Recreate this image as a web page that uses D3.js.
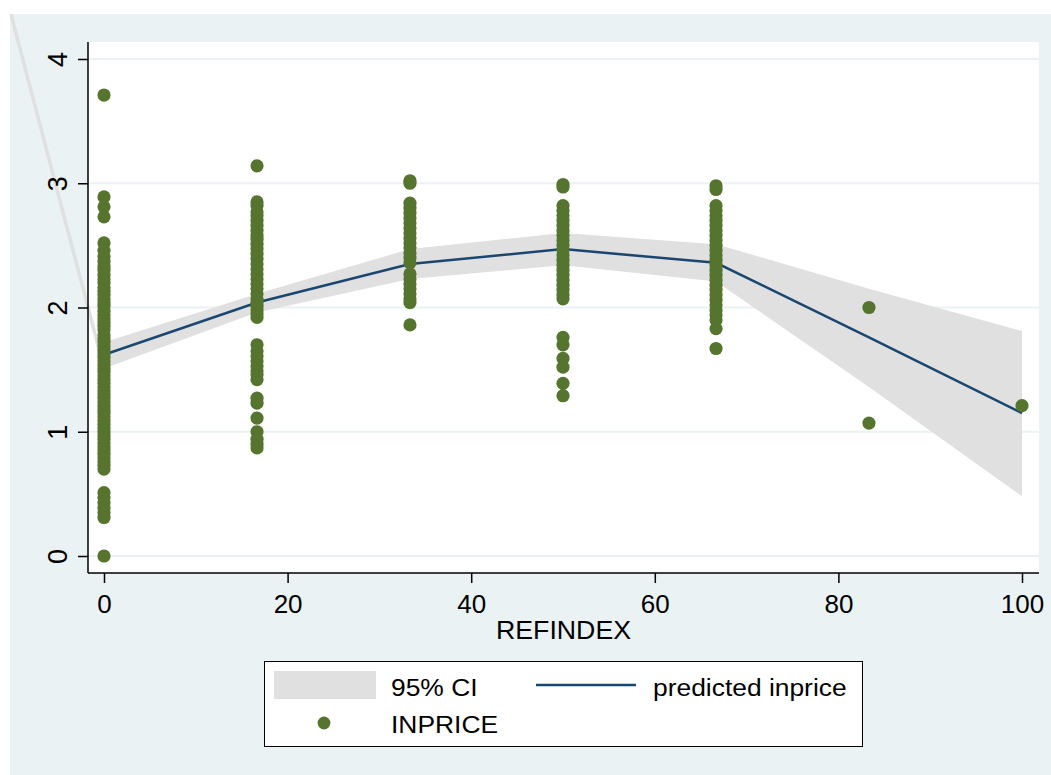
<!DOCTYPE html>
<html>
<head>
<meta charset="utf-8">
<script src="https://cdn.jsdelivr.net/npm/d3@7"></script>
<style>
  body { margin: 0; background: #fff; }
  text { font-family: "Liberation Sans", Arial, sans-serif; fill: #000; }
</style>
</head>
<body>
<svg id="chart" width="1051" height="775"></svg>
<script>
// REFINDEX groups and INPRICE values
const refindex = [0, 16.67, 33.33, 50, 66.67, 83.33, 100];
const inprice0 = [3.71, 2.89, 2.81, 2.73, 2.52, 2.46, 2.41, 2.37, 2.33, 2.30, 2.26, 2.23, 2.20, 2.16, 2.13, 2.10, 2.07,
  2.04, 2.01, 1.97, 1.94, 1.91, 1.88, 1.85, 1.82, 1.78, 1.75, 1.72, 1.69, 1.66, 1.63, 1.60, 1.57, 1.54, 1.51, 1.48,
  1.45, 1.42, 1.39, 1.36, 1.33, 1.30, 1.27, 1.24, 1.21, 1.18, 1.15, 1.12, 1.09, 1.06, 1.03, 1.00, 0.97, 0.94, 0.91,
  0.88, 0.85, 0.82, 0.79, 0.76, 0.73, 0.70, 0.51, 0.47, 0.43, 0.39, 0.35, 0.31, 0.00];
const inprice17 = [3.14, 2.85, 2.82, 2.77, 2.74, 2.70, 2.66, 2.62, 2.58, 2.55, 2.51, 2.47, 2.43, 2.39, 2.35, 2.31,
  2.27, 2.23, 2.19, 2.15, 2.11, 2.07, 2.04, 2.01, 1.98, 1.95, 1.92, 1.70, 1.65, 1.61, 1.57, 1.53, 1.49, 1.46, 1.42,
  1.27, 1.23, 1.11, 1.00, 0.94, 0.90, 0.87];
const inprice33 = [3.02, 3.00, 2.84, 2.80, 2.76, 2.72, 2.68, 2.64, 2.60, 2.56, 2.52, 2.48, 2.44, 2.40, 2.36,
  2.27, 2.23, 2.19, 2.15, 2.11, 2.07, 2.04, 1.86];
const inprice50 = [2.99, 2.97, 2.82, 2.78, 2.74, 2.70, 2.66, 2.62, 2.58, 2.54, 2.50, 2.46, 2.42, 2.38, 2.34, 2.30, 2.26,
  2.22, 2.18, 2.14, 2.10, 2.07, 1.76, 1.70, 1.59, 1.52, 1.39, 1.29];
const inprice67 = [2.98, 2.95, 2.82, 2.78, 2.74, 2.70, 2.66, 2.62, 2.58, 2.54, 2.50, 2.46, 2.42, 2.38, 2.34, 2.30,
  2.26, 2.22, 2.18, 2.14, 2.10, 2.06, 2.02, 1.98, 1.94, 1.90, 1.83, 1.67];
const inprice83 = [2.00, 1.07];
const inprice100 = [1.21];

// fitted values and 95% CI at each REFINDEX
const predicted = [1.62, 2.04, 2.35, 2.47, 2.36, 1.76, 1.15];
const ciLow = [1.51, 1.96, 2.23, 2.34, 2.21, 1.36, 0.48];
const ciHigh = [1.72, 2.11, 2.47, 2.60, 2.51, 2.15, 1.81];
// stray CI edge that runs off the top-left of the graph
const ciStray = [{x: 0, y: 1.51}, {x: -11.7, y: 4.8}];

const xTicks = [0, 20, 40, 60, 80, 100];
const yTicks = [0, 1, 2, 3, 4];

const colDots = "#55752f", colLine = "#1a476f", colCI = "#e0e0e0", colBg = "#eaf2f3";

const svg = d3.select("#chart");
const plot = {left: 88, right: 1039, top: 42, bottom: 573};

const x = d3.scaleLinear().domain([0, 100]).range([104, 1022]);
const y = d3.scaleLinear().domain([0, 4]).range([556, 59]);

// outer and inner regions
svg.append("rect").attr("x", 10).attr("y", 14).attr("width", 1041).attr("height", 761).attr("fill", colBg);
svg.append("rect").attr("x", plot.left).attr("y", plot.top)
  .attr("width", plot.right - plot.left).attr("height", plot.bottom - plot.top).attr("fill", "#fff");

svg.append("clipPath").attr("id", "outer")
  .append("rect").attr("x", 10).attr("y", 14).attr("width", 1041).attr("height", 761);

// gridlines
svg.append("g").selectAll("line").data(yTicks).join("line")
  .attr("x1", plot.left).attr("x2", plot.right)
  .attr("y1", d => y(d)).attr("y2", d => y(d))
  .attr("stroke", colBg).attr("stroke-width", 2);

const rows = refindex.map((r, i) => ({x: r, fit: predicted[i], lo: ciLow[i], hi: ciHigh[i]}));

// CI band
svg.append("path").datum(rows)
  .attr("d", d3.area().x(d => x(d.x)).y0(d => y(d.lo)).y1(d => y(d.hi)))
  .attr("fill", colCI);
svg.append("path").datum(ciStray)
  .attr("clip-path", "url(#outer)")
  .attr("d", d3.line().x(d => x(d.x)).y(d => y(d.y)))
  .attr("stroke", colCI).attr("stroke-width", 3.5).attr("fill", "none");

// fitted line
svg.append("path").datum(rows)
  .attr("d", d3.line().x(d => x(d.x)).y(d => y(d.fit)))
  .attr("stroke", colLine).attr("stroke-width", 2.5).attr("fill", "none");

// scatter
const groups = [inprice0, inprice17, inprice33, inprice50, inprice67, inprice83, inprice100];
const points = groups.flatMap((vals, i) => vals.map(v => ({x: refindex[i], y: v})));
svg.append("g").selectAll("circle").data(points).join("circle")
  .attr("cx", d => x(d.x)).attr("cy", d => y(d.y)).attr("r", 6.6)
  .attr("fill", colDots);

// axes
const yAxis = g => g
  .attr("transform", "translate(" + plot.left + ",0)")
  .call(d3.axisLeft(y).tickValues(yTicks).tickFormat(d3.format("d")).tickSize(10).tickSizeOuter(0))
  .call(g => g.select(".domain").attr("d", "M0," + plot.top + "V" + plot.bottom).attr("stroke", "#000").attr("stroke-width", 1.5))
  .call(g => g.selectAll(".tick line").attr("stroke", "#000").attr("stroke-width", 1.5))
  .call(g => g.selectAll(".tick text")
    .attr("transform", "rotate(-90)").attr("x", 0).attr("y", -21).attr("dy", 0)
    .attr("text-anchor", "middle").attr("font-size", 27).attr("font-family", null));
const xAxis = g => g
  .attr("transform", "translate(0," + plot.bottom + ")")
  .call(d3.axisBottom(x).tickValues(xTicks).tickSize(10).tickPadding(12).tickSizeOuter(0))
  .call(g => g.select(".domain").attr("d", "M" + plot.left + ",0H" + plot.right).attr("stroke", "#000").attr("stroke-width", 1.5))
  .call(g => g.selectAll(".tick line").attr("stroke", "#000").attr("stroke-width", 1.5))
  .call(g => g.selectAll(".tick text").attr("font-size", 26).attr("font-family", null));
svg.append("g").call(yAxis);
svg.append("g").call(xAxis);

svg.append("text").attr("x", (plot.left + plot.right) / 2).attr("y", 639)
  .attr("text-anchor", "middle").attr("font-size", 25)
  .attr("transform", "translate(" + (-0.07 * 563.5) + ",0) scale(1.07,1)")
  .text("REFINDEX");

// legend
const lg = svg.append("g");
lg.append("rect").attr("x", 264.5).attr("y", 661.5).attr("width", 598).attr("height", 85)
  .attr("fill", "#fff").attr("stroke", "#000").attr("stroke-width", 1);
lg.append("rect").attr("x", 274).attr("y", 671).attr("width", 102).attr("height", 28).attr("fill", colCI);
lg.append("line").attr("x1", 536).attr("x2", 636).attr("y1", 685).attr("y2", 685)
  .attr("stroke", colLine).attr("stroke-width", 2.5);
lg.append("circle").attr("cx", 324).attr("cy", 723).attr("r", 6.4).attr("fill", colDots);
const legendText = [["95% CI", 391, 696], ["predicted inprice", 653, 696], ["INPRICE", 391, 733]];
lg.selectAll("text.lab").data(legendText).join("text").attr("class", "lab")
  .attr("transform", d => "translate(" + d[1] + "," + d[2] + ") scale(1.1,1)")
  .attr("font-size", 24).text(d => d[0]);
</script>
</body>
</html>
